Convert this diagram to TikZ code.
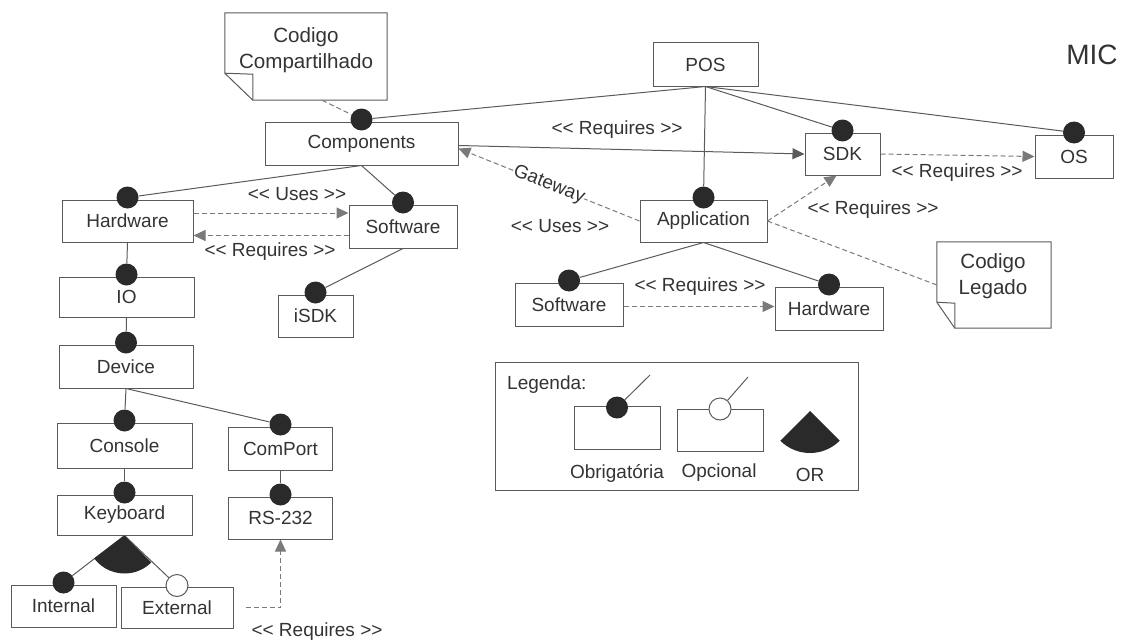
\documentclass[tikz,border=0pt]{standalone}
\usepackage{fontspec}
\setmainfont{Liberation Sans}[Ligatures=TeXOff]
\usetikzlibrary{arrows.meta}
\definecolor{ink}{HTML}{333333}
\definecolor{wire}{HTML}{5A5A5A}
\definecolor{dashwire}{HTML}{7A7A7A}
\definecolor{knob}{HTML}{2A2A2A}
\begin{document}
\begin{tikzpicture}[x=1pt,y=-1pt,
  font=\fontsize{19}{22}\selectfont, text=ink,
  feat/.style 2 args={draw=wire, line width=1pt, rectangle, inner sep=0pt,
                      minimum width=#1pt, minimum height=#2pt},
  mand/.style={circle, fill=knob, minimum size=22pt, inner sep=0pt},
  opt/.style={circle, draw=wire, fill=white, line width=1pt, minimum size=22pt, inner sep=0pt},
  link/.style={draw=wire, line width=1pt},
  dep/.style={draw=dashwire, line width=1pt, dash pattern=on 5pt off 3pt},
  tip/.style={-{Triangle[length=12pt,width=11pt]}},
  noteline/.style={draw=wire, line width=1pt, line join=miter},
  lbl/.style={inner sep=0pt},
  twoline/.style={align=center, font=\fontsize{20.6}{26}\selectfont, inner sep=0pt},
]
\useasboundingbox (0,0) rectangle (1123,642);

% ---------- feature boxes ----------
\node[feat={105}{43}]  (pos)  at (705.5,64.5)  {POS};
\node[feat={193}{43}]  (comp) at (361.5,143.5) {Components};
\node[feat={75}{42}]   (sdk)  at (842.5,154)   {SDK};
\node[feat={78}{43}]   (os)   at (1074,156.5)  {OS};
\node[feat={127}{42}]  (app)  at (703.5,221)   {Application};
\node[feat={108}{43}]  (asw)  at (569,304.5)   {Software};
\node[feat={108}{43}]  (ahw)  at (829,308.5)   {Hardware};
\node[feat={131}{42}]  (hw)   at (127.5,221)   {Hardware};
\node[feat={108}{43}]  (sw)   at (403,226.5)   {Software};
\node[feat={75}{42}]   (isdk) at (315.5,316)   {iSDK};
\node[feat={135}{40}]  (io)   at (126.5,297)   {IO};
\node[feat={134}{43}]  (dev)  at (126,366.5)   {Device};
\node[feat={135}{45}]  (con)  at (124.5,445.5) {Console};
\node[feat={104}{43}]  (cp)   at (280.5,448.5) {ComPort};
\node[feat={135}{40}]  (kb)   at (124.5,515)   {Keyboard};
\node[feat={104}{42}]  (rs)   at (280.5,518)   {RS-232};
\node[feat={105}{42}]  (int)  at (63.5,606)    {Internal};
\node[feat={112}{41}]  (ext)  at (177,607.5)   {External};

% ---------- notes ----------
\node[minimum width=162pt, minimum height=87pt, inner sep=0pt] (note1) at (306,56.5) {};
\draw[noteline] (note1.north west) -- (note1.north east) -- (note1.south east)
  -- ([xshift=28pt]note1.south west) -- ([yshift=27pt]note1.south west) -- cycle;
\draw[noteline] ([yshift=27pt]note1.south west) -- ([xshift=28pt,yshift=26pt]note1.south west)
  -- ([xshift=28pt]note1.south west);
\node[twoline] (note1txt) at (306,50) {Codigo\\Compartilhado};

\node[minimum width=114pt, minimum height=86pt, inner sep=0pt] (note2) at (994,285) {};
\draw[noteline] (note2.north west) -- (note2.north east) -- (note2.south east)
  -- ([xshift=18pt]note2.south west) -- ([yshift=26pt]note2.south west) -- cycle;
\draw[noteline] ([yshift=26pt]note2.south west) -- ([xshift=18pt,yshift=25pt]note2.south west)
  -- ([xshift=18pt]note2.south west);
\node[twoline] (note2txt) at (993,276) {Codigo\\Legado};

% ---------- mandatory / optional markers ----------
\foreach \n in {comp,sdk,os,app,asw,ahw,hw,sw,isdk,io,dev,con,cp,kb,rs,int}
  \node[mand] (\n-k) at ([yshift=2pt]\n.north) {};
\node[opt] (ext-k) at ([yshift=1pt]ext.north) {};

% ---------- feature tree ----------
\draw[link] (pos.south) -- (comp-k);
\draw[link] (pos.south) -- (app-k);
\draw[link] (pos.south) -- (sdk-k);
\draw[link] (pos.south) -- (os-k);
\draw[link] (comp.south) -- (hw-k);
\draw[link] (comp.south) -- (sw-k);
\draw[link] (sw.south) -- (isdk-k);
\draw[link] (app.south) -- (asw-k);
\draw[link] (app.south) -- (ahw-k);
\draw[link] (hw.south) -- (io-k);
\draw[link] (io.south) -- (dev-k);
\draw[link] (dev.south) -- (con-k);
\draw[link] (dev.south) -- (cp-k);
\draw[link] (con.south) -- (kb-k);
\draw[link] (cp.south) -- (rs-k);
\draw[link] (kb.south) -- (int-k);
\draw[link] (kb.south) -- (ext-k);
% OR group under Keyboard
\fill[knob] (kb.south) -- ++(143:38) arc[start angle=143, end angle=45, radius=38] -- cycle;

% ---------- dependencies ----------
\draw[link, tip] ([yshift=-2pt]comp.east) -- (sdk.west);
\node[lbl] (l-req1) at (617,130) {<< Requires >>};

\draw[dep, tip] (app.west) -- node[sloped, fill=white, inner sep=0.5pt] (gw) {Gateway}
  ([yshift=-5pt]comp.east);
\node[lbl] (l-uses1) at (560,226) {<< Uses >>};

\draw[dep, tip] (app.east) -- ([xshift=-6pt]sdk.south);
\node[lbl] (l-req2) at (873,210) {<< Requires >>};

\draw[dep] (app.east) -- (note2.west);
\draw[dep] ([xshift=16pt]note1.south) -- (comp-k);

\draw[dep, tip] (sdk.east) -- (os.west);
\node[lbl] (l-req3) at (957,173) {<< Requires >>};

\draw[dep, tip] ([yshift=-2pt]asw.east) -- ([yshift=-2pt]asw.east -| ahw.west);
\node[lbl] (l-req4) at (700,287) {<< Requires >>};

\draw[dep, tip] ([yshift=8pt]hw.east) -- ([yshift=8pt]hw.east -| sw.west);
\node[lbl] (l-uses2) at (297,194) {<< Uses >>};

\draw[dep, tip] ([yshift=-9pt]sw.west) -- ([yshift=-9pt]sw.west -| hw.east);
\node[lbl] (l-req5) at (270,252) {<< Requires >>};

\draw[dep, tip, shorten <=12pt] (ext.east) -| (rs.south);
\node[lbl] (l-req6) at (317,632) {<< Requires >>};

\node[lbl, font=\fontsize{28}{32}\selectfont] (mic) at (1092,55) {MIC};

% ---------- legend ----------
\node[draw=wire, line width=1pt, minimum width=363pt, minimum height=128pt, inner sep=0pt]
  (leg) at (676.5,426) {};
\node[lbl, anchor=west] (legtitle) at (507,385) {Legenda:};
\node[feat={86}{43}] (lg-obr) at (617,427.5) {};
\node[feat={86}{42}] (lg-opc) at (720,430) {};
\coordinate (lg-obr-end) at (650,375);
\coordinate (lg-opc-end) at (748,377);
\node[mand] (lg-obr-k) at ([yshift=20pt]lg-obr.center) {};
\node[opt]  (lg-opc-k) at ([yshift=21pt]lg-opc.center) {};
\draw[link] (lg-obr-k) -- (lg-obr-end);
\draw[link] (lg-opc-k) -- (lg-opc-end);
\coordinate (lg-or) at (810,411);
\fill[knob] (lg-or) -- ++(135:42) arc[start angle=135, end angle=45, radius=42] -- cycle;
\node[lbl] (lg-t1) at (617,473) {Obrigatória};
\node[lbl] (lg-t2) at (719,473) {Opcional};
\node[lbl] (lg-t3) at (810,475) {OR};
\end{tikzpicture}
\end{document}
